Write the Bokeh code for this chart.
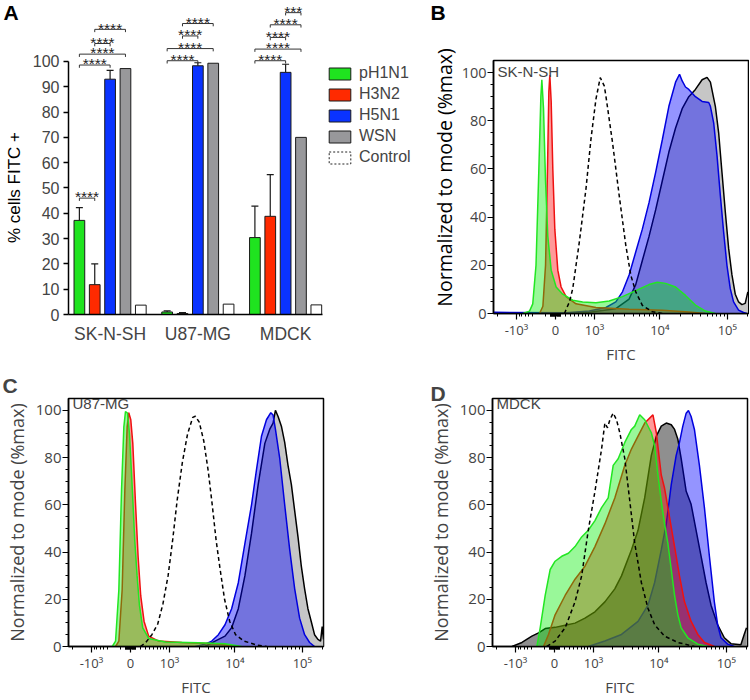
import numpy as np
from bokeh.plotting import figure
from bokeh.models import (ColumnDataSource, FixedTicker, Legend, LegendItem, Label,
                          LabelSet, Whisker, TeeHead, Range1d)
from bokeh.layouts import row, column
from bokeh.embed import file_html
from bokeh.resources import INLINE
from bokeh.core.properties import value

# ---------------- Panel A data ----------------
cell_lines = ["SK-N-SH", "U87-MG", "MDCK"]
viruses = ["pH1N1", "H3N2", "H5N1", "WSN", "Control"]
pct_pH1N1 = [37.2, 1.0, 30.4]
pct_H3N2 = [11.8, 0.4, 38.8]
pct_H5N1 = [93.0, 98.3, 95.7]
pct_WSN = [97.2, 99.3, 70.0]
pct_Control = [3.7, 4.1, 3.8]
sd_pH1N1 = [5.0, 0.4, 12.4]
sd_H3N2 = [8.2, 0.4, 16.5]
sd_H5N1 = [3.5, 1.2, 3.2]

sig_cell = [0, 0, 0, 0, 0, 1, 1, 1, 1, 2, 2, 2, 2, 2]
sig_from = ["pH1N1", "pH1N1", "pH1N1", "H3N2", "H3N2",
            "pH1N1", "pH1N1", "H3N2", "H3N2",
            "pH1N1", "pH1N1", "H3N2", "H3N2", "H5N1"]
sig_to = ["H3N2", "H5N1", "WSN", "H5N1", "WSN",
          "H5N1", "WSN", "H5N1", "WSN",
          "H5N1", "WSN", "H5N1", "WSN", "WSN"]
sig_level = [46.0, 98.6, 102.9, 107.1, 112.7,
             100.3, 105.1, 110.1, 115.0,
             100.3, 104.9, 109.5, 114.5, 119.3]
sig_text = ["****"] * 13 + ["***"]

# ---------------- Histogram data (x = position on biexponential FITC axis, y = % of mode) ----------------
# Panel B: SK-N-SH
B_pH1N1_x = [-0.50, -0.40, -0.35, -0.30, -0.256, -0.225, -0.21, -0.184, -0.153, -0.118, -0.066, 0.01, 0.112,
             0.266, 0.419, 0.624, 0.828, 1.033, 1.237, 1.442, 1.57, 1.697, 1.851, 2.004, 2.157, 2.311, 2.464]
B_pH1N1_y = [0, 1, 4, 20, 60, 90, 97, 85, 55, 32, 18, 11, 8, 5.5, 4.8, 4.5, 5.2, 7, 9.5, 12, 13, 12.5, 11, 7.5,
             3.5, 1, 0]
B_H3N2_x = [-0.245, -0.194, -0.153, -0.123, -0.102, -0.087, -0.066, -0.041, -0.010, 0.036, 0.087, 0.164, 0.317,
            0.624, 1.135, 1.646, 2.055, 2.311]
B_H3N2_y = [0, 3, 20, 60, 92, 99, 88, 60, 35, 18, 11, 7, 4, 2.5, 1.8, 1.3, 0.6, 0]
B_H5N1_x = [-0.95, 0.164, 0.521, 0.777, 0.930, 1.033, 1.135, 1.237, 1.339, 1.442, 1.544, 1.646, 1.748, 1.851,
            1.912, 1.953, 2.004, 2.055, 2.157, 2.260, 2.362, 2.388, 2.439, 2.490, 2.541, 2.592, 2.643, 2.694,
            2.745, 2.822, 2.899, 2.95]
B_H5N1_y = [0.5, 0.3, 1, 2.5, 4.8, 9, 16, 25.5, 35, 46, 58.6, 72, 86, 96, 99.3, 96.5, 94, 93, 90, 88, 87.6, 86,
            79, 65.5, 49, 33.8, 20, 10.3, 4.8, 1.4, 0.4, 0]
B_WSN_x = [0.01, 0.521, 0.930, 1.135, 1.237, 1.339, 1.442, 1.544, 1.646, 1.748, 1.851, 1.953, 2.055, 2.157,
           2.260, 2.336, 2.388, 2.464, 2.515, 2.566, 2.618, 2.669, 2.720, 2.771, 2.822, 2.873, 2.924, 2.965]
B_WSN_y = [0, 0.5, 2, 6, 12, 22, 32, 43, 55, 67, 77, 85, 90, 93, 97, 98, 96, 86, 75, 58.6, 42, 27, 16, 8, 4.8,
           3.7, 4.2, 9]
B_Control_x = [0.138, 0.215, 0.266, 0.368, 0.470, 0.547, 0.624, 0.690, 0.752, 0.777, 0.879, 0.982, 1.084,
               1.161, 1.237, 1.339, 1.493, 1.646]
B_Control_y = [0, 4.8, 10.3, 29.7, 51.7, 72.4, 89, 97.9, 94.5, 90.3, 71, 49, 28.3, 15.9, 9, 3.4, 0.7, 0]

# Panel C: U87-MG
C_pH1N1_x = [-0.281, -0.230, -0.179, -0.138, -0.102, -0.077, -0.046, -0.015, 0.026, 0.066, 0.102, 0.138,
             0.189, 0.281, 0.537, 1.048, 1.457, 1.713]
C_pH1N1_y = [0, 2.3, 24, 66, 93, 99.5, 98.8, 90, 68, 45, 30, 17.5, 7.9, 3.4, 1.9, 1.6, 1.2, 0]
C_H3N2_x = [-0.230, -0.179, -0.128, -0.087, -0.051, -0.026, 0.005, 0.036, 0.077, 0.118, 0.158, 0.210, 0.281,
            0.435, 0.792, 1.304, 1.662]
C_H3N2_y = [0, 2.3, 24, 66, 93, 99, 96, 86, 61, 38, 21.5, 10.6, 4.4, 2.3, 1.7, 1.2, 0]
C_H5N1_x = [1.0, 1.150, 1.253, 1.355, 1.457, 1.559, 1.662, 1.764, 1.866, 1.943, 2.019, 2.096, 2.163, 2.198,
            2.234, 2.301, 2.377, 2.454, 2.531, 2.607, 2.684, 2.761, 2.837]
C_H5N1_y = [0, 1, 2.3, 5, 9.2, 16, 27, 43.7, 60, 75, 89, 96, 99, 98, 92, 79.5, 60, 41, 24.4, 12, 5, 1.7, 0]
C_WSN_x = [1.150, 1.304, 1.457, 1.559, 1.662, 1.764, 1.866, 1.968, 2.071, 2.147, 2.198, 2.234, 2.275, 2.326,
           2.377, 2.428, 2.480, 2.531, 2.582, 2.633, 2.684, 2.735, 2.786, 2.837, 2.889, 2.930, 2.955, 2.975]
C_WSN_y = [0, 2.3, 4.4, 7.9, 16, 30, 48, 68.5, 86, 92, 94.6, 100, 97.4, 93.3, 86.4, 76.7, 68.5, 57.4, 46.4, 34,
           24.4, 16, 10.6, 5, 3, 2.3, 8.4, 3]
C_Control_x = [0.153, 0.23, 0.33, 0.42, 0.50, 0.58, 0.65, 0.72, 0.80, 0.88, 0.96, 1.0, 1.06, 1.13, 1.20, 1.26,
               1.32, 1.38, 1.45, 1.53, 1.62, 1.75, 1.95, 2.1]
C_Control_y = [0, 1.5, 5, 9.5, 18, 30, 45, 62, 78, 90, 97, 97.5, 95, 87, 74, 60, 45, 33, 20, 10.6, 5, 2.3, 0.6, 0]

# Panel D: MDCK
D_WSN_x = [-0.654, -0.501, -0.348, -0.245, -0.143, 0.010, 0.164, 0.317, 0.470, 0.624, 0.777, 0.930, 1.033,
           1.186, 1.288, 1.391, 1.493, 1.570, 1.646, 1.723, 1.800, 1.851, 1.902, 1.953, 2.030, 2.106, 2.183,
           2.260, 2.336, 2.413, 2.515, 2.618, 2.720, 2.873, 2.924, 2.960]
D_WSN_y = [0, 1.7, 4.4, 5.8, 7.6, 8.1, 9.0, 9.9, 12.0, 14.7, 18.9, 24.4, 29.9, 40.9, 49.2, 63.0, 80.9, 89.1,
           93.3, 94.6, 93.9, 91.9, 87.7, 79.5, 65.7, 60.2, 49.2, 38.2, 27.1, 17.5, 9.2, 3.7, 1.2, 0.7, 5.1, 7.9]
D_H5N1_x = [0.521, 0.777, 1.033, 1.288, 1.442, 1.544, 1.646, 1.723, 1.800, 1.876, 1.927, 1.978, 2.030, 2.065,
            2.106, 2.157, 2.234, 2.311, 2.388, 2.464, 2.515, 2.566, 2.669, 2.771]
D_H5N1_y = [0, 2.3, 5.1, 10.6, 17.5, 27.1, 40.9, 51.9, 68.5, 80.9, 86.4, 93.3, 98.8, 99.9, 97.4, 91.9, 76.7,
            58.8, 38.2, 18.9, 9.2, 3.7, 1.0, 0]
D_H3N2_x = [-0.169, -0.092, 0.010, 0.164, 0.317, 0.470, 0.624, 0.777, 0.930, 1.084, 1.186, 1.288, 1.391, 1.467,
            1.518, 1.570, 1.646, 1.697, 1.774, 1.851, 1.927, 2.004, 2.106, 2.209, 2.311, 2.464]
D_H3N2_y = [0, 5.1, 13.4, 21.6, 28.5, 34.0, 42.3, 51.9, 62.9, 76.7, 83.6, 89.1, 94.6, 96.7, 98.1, 90.5, 72.6,
            67.0, 54.7, 42.3, 29.9, 18.9, 10.6, 5.1, 1.7, 0]
D_pH1N1_x = [-0.271, -0.220, -0.143, -0.066, 0.010, 0.112, 0.215, 0.317, 0.419, 0.521, 0.624, 0.726, 0.828,
             0.905, 0.982, 1.084, 1.186, 1.237, 1.314, 1.391, 1.493, 1.544, 1.595, 1.646, 1.697, 1.748, 1.800,
             1.851, 1.902, 1.953, 2.055, 2.209, 2.362]
D_pH1N1_y = [0, 7.9, 21.6, 32.6, 36.1, 38.2, 39.5, 42.3, 46.4, 49.2, 53.3, 58.8, 62.9, 76.7, 79.5, 86.4, 91.9,
             93.3, 98.1, 96.0, 90.5, 85.0, 72.6, 61.6, 51.9, 43.7, 32.6, 21.6, 13.4, 7.9, 3.7, 1.0, 0]
D_Control_x = [-0.118, 0.010, 0.164, 0.317, 0.419, 0.521, 0.624, 0.726, 0.777, 0.818, 0.854, 0.905, 0.956,
               1.007, 1.084, 1.161, 1.237, 1.339, 1.442, 1.544, 1.697, 1.902, 2.157]
D_Control_y = [0, 2.3, 7.9, 18.9, 29.9, 49.2, 65.7, 83.6, 94.6, 92.6, 96.0, 98.8, 96.0, 90.5, 79.5, 61.6, 43.7,
               27.1, 16.1, 9.2, 4.4, 1.7, 0]

# FITC axis (biexponential display) tick values
fitc_major = [-1e3, 0, 1e3, 1e4, 1e5]
fitc_major_text = ["-10³", "0", "10³", "10⁴", "10⁵"]
fitc_minor = ([-2000] + list(range(-900, -400, 100)) + [-200, -100] + list(range(-90, 0, 10))
              + list(range(10, 100, 10)) + list(range(100, 1000, 100)) + list(range(2000, 10000, 1000))
              + list(range(20000, 100000, 10000)) + [200000])
pct_ticks = [0, 20, 40, 60, 80, 100]
pct_minor = list(range(0, 105, 5))
FLOW_YLABEL = "Normalized to mode (%max)"

# ---------------- styling ----------------
ARIAL = "Liberation Sans"
SEGOE = "Open Sans"
BAR_STEP = 0.175
BAR_W = 0.122
bar_fill = {"pH1N1": "#1fe31f", "H3N2": "#ff2a00", "H5N1": "#0a33ff", "WSN": "#98989b", "Control": "#ffffff"}
FITC_C = 568.0
FITC_K = 1.04
X_LO, X_HI = -0.955, 2.975
ROW1_H = 371
ROW2_H = 328


def biex(v):
    return FITC_K * np.arcsinh(np.asarray(v, dtype=float) / FITC_C) / np.log(10)


def strip(width, height, letter, letter_x, label, label_x, label_y, label_font, label_size):
    """Narrow strip holding a panel letter and a rotated y-axis title."""
    s = figure(width=width, height=height, x_range=Range1d(0, width), y_range=Range1d(0, height),
               x_axis_type=None, y_axis_type=None, output_backend="svg", toolbar_location=None,
               min_border_left=0, min_border_right=0, min_border_top=0, min_border_bottom=0,
               frame_align=False)
    s.outline_line_color = None
    s.text(x=[letter_x], y=[height], text=[letter], text_baseline="top", text_align="left",
           text_font=value(ARIAL), text_font_size=value("21px"), text_font_style=value("bold"),
           text_color="black")
    s.text(x=[label_x], y=[height - label_y], text=[label], angle=np.pi / 2, text_align="center",
           text_baseline="middle", text_font=value(label_font), text_font_size=value(label_size),
           text_color="black")
    return s


# ---------------- Panel A ----------------
sA = strip(26, ROW1_H, "A", 3, "% cells FITC +", 13.5, 187, ARIAL, "17px")

pA = figure(width=389, height=ROW1_H, x_range=Range1d(-0.474, 3.48), y_range=Range1d(0, 124.1),
            output_backend="svg", toolbar_location=None, frame_align=False,
            min_border_left=42, min_border_right=0, min_border_top=0, min_border_bottom=ROW1_H - 314)
pA.outline_line_color = None
pA.grid.visible = False

pct = {"pH1N1": pct_pH1N1, "H3N2": pct_H3N2, "H5N1": pct_H5N1, "WSN": pct_WSN, "Control": pct_Control}
sd = {"pH1N1": sd_pH1N1, "H3N2": sd_H3N2, "H5N1": sd_H5N1}
vidx = {v: k for k, v in enumerate(viruses)}

items = []
for k, v in enumerate(viruses):
    xs = [g + (k - 2) * BAR_STEP for g in range(len(cell_lines))]
    src = ColumnDataSource(dict(x=xs, top=pct[v]))
    r = pA.vbar(x="x", top="top", bottom=0, width=BAR_W, source=src,
                fill_color=bar_fill[v], line_color="#1a1a1a", line_width=1)
    if v in sd:
        hi = [a + b for a, b in zip(pct[v], sd[v])]
        ws = ColumnDataSource(dict(x=xs, lo=pct[v], hi=hi))
        pA.add_layout(Whisker(source=ws, base="x", upper="hi", lower="lo",
                              upper_head=TeeHead(size=7, line_width=1.2, line_color="#1a1a1a"),
                              lower_head=None, line_width=1.2, line_color="#1a1a1a"))
    if v == "Control":
        proxy = pA.vbar(x="x", top="top", bottom=0, width=BAR_W, source=src, fill_color="white",
                        line_color="#222222", line_dash="2 2", line_width=1, visible=False)
        items.append(LegendItem(label=v, renderers=[proxy]))
    else:
        items.append(LegendItem(label=v, renderers=[r]))

# significance brackets
bx0 = [c + (vidx[a] - 2) * BAR_STEP for c, a in zip(sig_cell, sig_from)]
bx1 = [c + (vidx[b] - 2) * BAR_STEP for c, b in zip(sig_cell, sig_to)]
bdrop = [lv - 1.1 for lv in sig_level]
pA.segment(x0=bx0, y0=sig_level, x1=bx1, y1=sig_level, line_color="#333333", line_width=1)
pA.segment(x0=bx0, y0=sig_level, x1=bx0, y1=bdrop, line_color="#333333", line_width=1)
pA.segment(x0=bx1, y0=sig_level, x1=bx1, y1=bdrop, line_color="#333333", line_width=1)
sig_src = ColumnDataSource(dict(x=[(a + b) / 2 for a, b in zip(bx0, bx1)],
                                y=[lv + 0.5 for lv in sig_level], t=sig_text))
pA.add_layout(LabelSet(x="x", y="y", text="t", source=sig_src, text_align="center",
                       text_baseline="middle", text_font=value(ARIAL), text_font_size=value("15.5px"),
                       text_color="#222222"))

legend = Legend(items=items, location=(258, 148), glyph_width=27, glyph_height=15, label_height=15,
                spacing=3, label_standoff=6, padding=0, margin=0, border_line_color=None,
                background_fill_alpha=0, label_text_font=ARIAL, label_text_font_size="16px")
pA.add_layout(legend)

yA = pA.yaxis[0]
yA.ticker = FixedTicker(ticks=list(range(0, 101, 10)))
yA.bounds = (0, 100)
yA.major_label_text_font = ARIAL
yA.major_label_text_font_size = "16px"
yA.major_label_standoff = 4
yA.major_tick_out = 5
yA.major_tick_in = 0
yA.minor_tick_out = 0
yA.minor_tick_in = 0
yA.axis_line_width = 1.5
yA.major_tick_line_width = 1.5

xA = pA.xaxis[0]
xA.ticker = FixedTicker(ticks=[0, 1, 2])
xA.major_label_overrides = {i: name for i, name in enumerate(cell_lines)}
xA.bounds = (-0.474, 2.416)
xA.major_tick_out = 0
xA.major_tick_in = 0
xA.minor_tick_out = 0
xA.minor_tick_in = 0
xA.major_label_standoff = 9
xA.major_label_text_font = ARIAL
xA.major_label_text_font_size = "17.5px"
xA.axis_line_width = 1.5


# ---------------- Flow panels ----------------
def flow_panel(curves, cell_name, width, height, mb, ylabel, ylab_size, ytick_size, letter, title_offset,
               title_valign, title_standoff, gray):
    left, right, top, bottom = mb
    fh = height - top - bottom
    p = figure(width=width, height=height, x_range=Range1d(X_LO, X_HI), y_range=Range1d(0, 105),
               output_backend="svg", toolbar_location=None, frame_align=False,
               min_border_left=left, min_border_right=right, min_border_top=top, min_border_bottom=bottom)
    p.grid.visible = False
    p.outline_line_color = "black"
    p.outline_line_width = 1.5
    p.outline_line_alpha = 1.0

    if letter:
        p.title.text = letter
        p.title.align = "left"
        p.title.offset = title_offset
        p.title.vertical_align = title_valign
        try:
            p.title.standoff = title_standoff
        except Exception:
            p.title.standoff = 0
        p.title.text_font = ARIAL
        p.title.text_font_size = "21px"
        p.title.text_font_style = "bold"

    style = {
        "WSN": (gray, 1.0, "#000000"),
        "H5N1": ("#0000ff", 0.42, "#0000dd"),
        "H3N2": ("#ff0000", 0.40, "#ee1111"),
        "pH1N1": ("#00ee00", 0.40, "#22e622"),
    }
    for key in ["WSN", "H5N1", "H3N2", "pH1N1"]:
        xs, ys = curves[key]
        fc, fa, lc = style[key]
        p.varea(x=xs, y1=0, y2=ys, fill_color=fc, fill_alpha=fa)
        p.line(x=xs, y=ys, line_color=lc, line_width=1.5)
    xs, ys = curves["Control"]
    p.line(x=xs, y=ys, line_color="black", line_width=1.5, line_dash="4 3")

    yax = p.yaxis[0]
    yax.ticker = FixedTicker(ticks=pct_ticks, minor_ticks=pct_minor)
    if ylabel:
        yax.axis_label = ylabel
        yax.axis_label_text_font = SEGOE
        yax.axis_label_text_font_size = ylab_size
        yax.axis_label_text_font_style = "normal"
        yax.axis_label_standoff = 4
    yax.major_label_text_font = SEGOE
    yax.major_label_text_font_size = ytick_size
    yax.major_label_standoff = 1
    yax.major_tick_out = 6
    yax.major_tick_in = 0
    yax.minor_tick_out = 3
    yax.minor_tick_in = 0
    yax.axis_line_width = 1.5
    yax.major_tick_line_width = 1.2

    major_pos = [round(float(biex(v)), 4) for v in fitc_major]
    minor_pos = [round(float(biex(v)), 4) for v in fitc_minor]
    xax = p.xaxis[0]
    xax.ticker = FixedTicker(ticks=major_pos, minor_ticks=minor_pos)
    xax.major_label_overrides = {pos: t for pos, t in zip(major_pos, fitc_major_text)}
    xax.axis_label = "FITC"
    xax.axis_label_text_font = SEGOE
    xax.axis_label_text_font_size = "15px"
    xax.axis_label_text_font_style = "normal"
    xax.axis_label_standoff = 2
    xax.major_label_text_font = SEGOE
    xax.major_label_text_font_size = "13px"
    xax.major_label_standoff = 1
    xax.major_tick_out = 6
    xax.major_tick_in = 0
    xax.minor_tick_out = 3
    xax.minor_tick_in = 0
    xax.axis_line_width = 1.5
    xax.major_tick_line_width = 1.2

    p.add_layout(Label(x=4, y=fh - 2, x_units="screen", y_units="screen", text=cell_name,
                       text_baseline="top", text_font=ARIAL, text_font_size="15px"))
    return p


curvesB = {"pH1N1": (B_pH1N1_x, B_pH1N1_y), "H3N2": (B_H3N2_x, B_H3N2_y), "H5N1": (B_H5N1_x, B_H5N1_y),
           "WSN": (B_WSN_x, B_WSN_y), "Control": (B_Control_x, B_Control_y)}
curvesC = {"pH1N1": (C_pH1N1_x, C_pH1N1_y), "H3N2": (C_H3N2_x, C_H3N2_y), "H5N1": (C_H5N1_x, C_H5N1_y),
           "WSN": (C_WSN_x, C_WSN_y), "Control": (C_Control_x, C_Control_y)}
curvesD = {"pH1N1": (D_pH1N1_x, D_pH1N1_y), "H3N2": (D_H3N2_x, D_H3N2_y), "H5N1": (D_H5N1_x, D_H5N1_y),
           "WSN": (D_WSN_x, D_WSN_y), "Control": (D_Control_x, D_Control_y)}

sB = strip(43, ROW1_H, "B", 15, FLOW_YLABEL, 29, 177, SEGOE, "19.5px")
pB = flow_panel(curvesB, "SK-N-SH", 291, ROW1_H, (33, 1, 60, ROW1_H - 313), None, None, "14.5px",
                None, 0, "top", 0, "#c6c6c6")
pC = flow_panel(curvesC, "U87-MG", 415, ROW2_H, (68, 92, 27, 47), FLOW_YLABEL, "18px", "15px",
                "C", -66, "top", 0, "#c6c6c6")
pD = flow_panel(curvesD, "MDCK", 334, ROW2_H, (77, 2, 27, 47), FLOW_YLABEL, "18px", "15px",
                "D", -62, "bottom", -12, "#8f8f8f")

layout = column(row(sA, pA, sB, pB), row(pC, pD))
open("out.html", "w").write(file_html(layout, INLINE))
